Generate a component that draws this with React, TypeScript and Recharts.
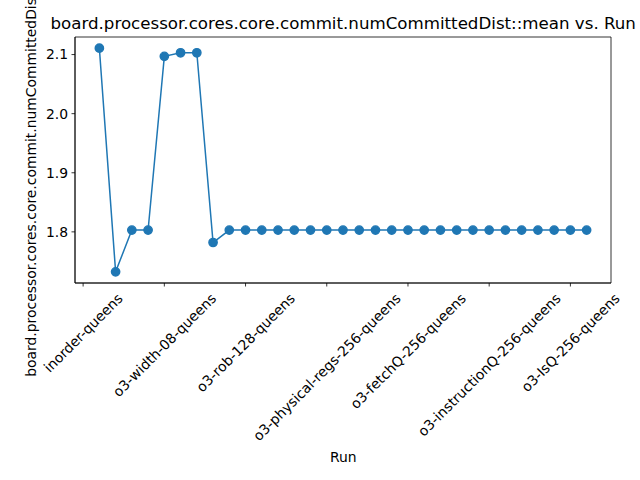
import { LineChart, Line, XAxis, YAxis, ReferenceArea } from 'recharts'

// run index 0 ("inorder-queens") has no value in the source plot
const runIndex = [
  0, 1, 2, 3, 4, 5, 6, 7, 8, 9, 10, 11, 12, 13, 14, 15, 16, 17, 18, 19, 20, 21, 22, 23, 24, 25,
  26, 27, 28, 29, 30, 31,
]
const meanValues: (number | null)[] = [
  null, 2.1108, 1.7324, 1.803, 1.803, 2.097, 2.103, 2.103, 1.782, 1.803, 1.803, 1.803, 1.803,
  1.803, 1.803, 1.803, 1.803, 1.803, 1.803, 1.803, 1.803, 1.803, 1.803, 1.803, 1.803, 1.803,
  1.803, 1.803, 1.803, 1.803, 1.803, 1.803,
]
const tickPositions = [0, 5, 10, 15, 20, 25, 30]
const tickLabels = [
  'inorder-queens',
  'o3-width-08-queens',
  'o3-rob-128-queens',
  'o3-physical-regs-256-queens',
  'o3-fetchQ-256-queens',
  'o3-instructionQ-256-queens',
  'o3-IsQ-256-queens',
]
const yTicks = [1.8, 1.9, 2.0, 2.1]

const data = runIndex.map((i, k) => ({ idx: i, value: meanValues[k] }))

const X_DOMAIN: [number, number] = [-0.5, 32.5]
const Y_DOMAIN: [number, number] = [1.71348, 2.12972]

const FONT = 'DejaVu Sans, sans-serif'
const TICK_SIZE = 13.9
const BLUE = '#1f77b4'

let ctx: CanvasRenderingContext2D | null = null
function textWidth(s: string) {
  if (!ctx) ctx = document.createElement('canvas').getContext('2d')
  if (!ctx) return s.length * 8.3
  ctx.font = `${TICK_SIZE}px "DejaVu Sans"`
  return ctx.measureText(s).width
}

function RotatedTick(props: any) {
  const { x, y, payload } = props
  const pos = tickPositions.indexOf(payload.value)
  const label = pos >= 0 ? tickLabels[pos] : ''
  const w = textWidth(label)
  const h = TICK_SIZE * 1.17
  const cy = y + 3.5 + (w + h) / (2 * Math.SQRT2)
  return (
    <text
      x={0}
      y={0}
      transform={`translate(${x},${cy}) rotate(-45)`}
      textAnchor="middle"
      dominantBaseline="central"
      fontFamily={FONT}
      fontSize={TICK_SIZE}
      fill="#000"
    >
      {label}
    </text>
  )
}

export default function App() {
  return (
    <div
      style={{
        position: 'absolute',
        left: 0,
        top: 0,
        width: 640,
        height: 480,
        overflow: 'hidden',
        background: '#fff',
      }}
    >
      <LineChart
        width={640}
        height={480}
        data={data}
        margin={{ top: 37, right: 29, bottom: 0, left: 0 }}
      >
        <XAxis
          dataKey="idx"
          type="number"
          domain={X_DOMAIN}
          ticks={tickPositions}
          allowDataOverflow
          height={197}
          tickSize={3.5}
          tickMargin={0}
          axisLine={{ stroke: '#000', strokeWidth: 0.8 }}
          tickLine={{ stroke: '#000', strokeWidth: 0.8 }}
          tick={<RotatedTick />}
          interval={0}
        />
        <YAxis
          type="number"
          domain={Y_DOMAIN}
          ticks={yTicks}
          allowDataOverflow
          width={75}
          tickSize={3.5}
          tickMargin={3.5}
          tickFormatter={(v: number) => v.toFixed(1)}
          axisLine={{ stroke: '#000', strokeWidth: 0.8 }}
          tickLine={{ stroke: '#000', strokeWidth: 0.8 }}
          tick={{ fill: '#000', fontSize: TICK_SIZE, fontFamily: FONT }}
          interval={0}
        />
        {/* axes frame (top and right spines) */}
        <ReferenceArea
          x1={X_DOMAIN[0]}
          x2={X_DOMAIN[1]}
          y1={Y_DOMAIN[0]}
          y2={Y_DOMAIN[1]}
          fill="none"
          fillOpacity={0}
          stroke="#000"
          strokeWidth={0.8}
          strokeOpacity={1}
          ifOverflow="visible"
        />
        <Line
          dataKey="value"
          stroke={BLUE}
          strokeWidth={1.5}
          dot={{ r: 4.17, fill: BLUE, stroke: BLUE, strokeWidth: 1.39 }}
          activeDot={false}
          isAnimationActive={false}
        />
      </LineChart>
      <svg
        width={640}
        height={480}
        style={{ position: 'absolute', left: 0, top: 0, pointerEvents: 'none' }}
      >
        <text x={343.2} y={28.5} textAnchor="middle" fontFamily={FONT} fontSize={16.67} fill="#000">
          board.processor.cores.core.commit.numCommittedDist::mean vs. Run
        </text>
        <text x={343.2} y={461.5} textAnchor="middle" fontFamily={FONT} fontSize={TICK_SIZE} fill="#000">
          Run
        </text>
        <text
          x={0}
          y={0}
          transform="translate(35.5,160.3) rotate(-90)"
          textAnchor="middle"
          fontFamily={FONT}
          fontSize={TICK_SIZE}
          fill="#000"
        >
          board.processor.cores.core.commit.numCommittedDist::mean
        </text>
      </svg>
    </div>
  )
}
